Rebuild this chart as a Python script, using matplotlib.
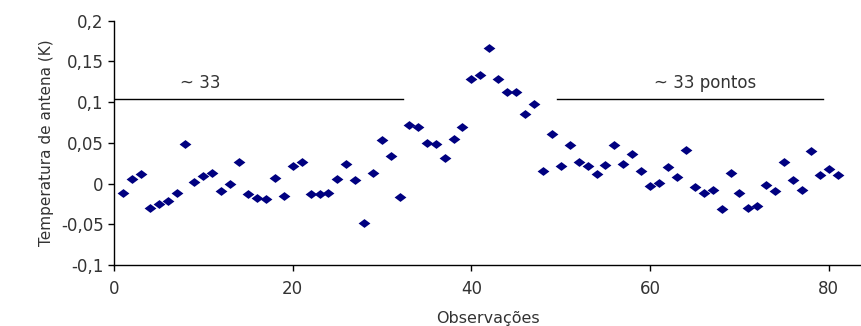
import matplotlib
matplotlib.use("Agg")
import matplotlib.pyplot as plt
import numpy as np

# observation index and antenna temperature (K)
obs = list(range(1, 82))
temp = [
    -0.011, 0.006, 0.012, -0.030, -0.025, -0.021, -0.011, 0.048, 0.002, 0.009,
    0.013, -0.009, -0.001, 0.026, -0.013, -0.018, -0.019, 0.007, -0.015, 0.021,
    0.026, -0.013, -0.013, -0.012, 0.006, 0.024, 0.004, -0.048, 0.013, 0.053,
    0.034, -0.016, 0.072, 0.070, 0.050, 0.048, 0.031, 0.055, 0.070, 0.128,
    0.133, 0.166, 0.129, 0.112, 0.112, 0.086, 0.098, 0.016, 0.061, 0.021,
    0.047, 0.026, 0.022, 0.012, 0.023, 0.047, 0.024, 0.036, 0.016, -0.003,
    0.001, 0.020, 0.008, 0.041, -0.004, -0.012, -0.008, -0.031, 0.013, -0.011,
    -0.030, -0.027, -0.002, -0.009, 0.027, 0.004, -0.008, 0.040, 0.011, 0.018,
    0.010,
]

# reference segments (~33 points each side)
seg_level = 0.104
left_seg = [0, 32.3]
right_seg = [49.6, 79.4]
left_label = "~ 33"
right_label = "~ 33 pontos"

xticks = [0, 20, 40, 60, 80]
yticks = [-0.1, -0.05, 0, 0.05, 0.1, 0.15, 0.2]
ytick_labels = ["-0,1", "-0,05", "0", "0,05", "0,1", "0,15", "0,2"]

plt.rcParams['font.family'] = ['DejaVu Sans']
txt_color = '#333333'

fig = plt.figure(figsize=(8.61, 3.26), dpi=100)
ax = fig.add_axes([0.1324, 0.187, 0.8676, 0.7495])

diamond = [(-1, 0), (0, 0.75), (1, 0), (0, -0.75)]
ax.plot(obs, temp, linestyle='none', marker=diamond, markersize=8.5,
        color='#000080', markeredgewidth=0)

ax.plot(left_seg, [seg_level, seg_level], color='black', lw=1.0)
ax.plot(right_seg, [seg_level, seg_level], color='black', lw=1.0)
ax.text(9.7, 0.123, left_label, ha='center', va='center', fontsize=12, color=txt_color)
ax.text(66.2, 0.123, right_label, ha='center', va='center', fontsize=12, color=txt_color)

ax.set_xlim(0, 83.6)
ax.set_ylim(-0.1, 0.2)
ax.set_xticks(xticks)
ax.set_yticks(yticks)
ax.set_yticklabels(ytick_labels)
ax.tick_params(direction='out', length=4, width=1, colors='black',
               labelsize=12, labelcolor=txt_color)
ax.tick_params(axis='x', pad=7)

for side in ['top', 'right']:
    ax.spines[side].set_visible(False)
for side in ['left', 'bottom']:
    ax.spines[side].set_linewidth(1.0)

ax.set_xlabel("Observações", fontsize=11.5, color=txt_color, labelpad=9)
ax.set_ylabel("Temperatura de antena (K)", fontsize=11, color=txt_color, labelpad=5)

fig.savefig("out.png", dpi=100)
